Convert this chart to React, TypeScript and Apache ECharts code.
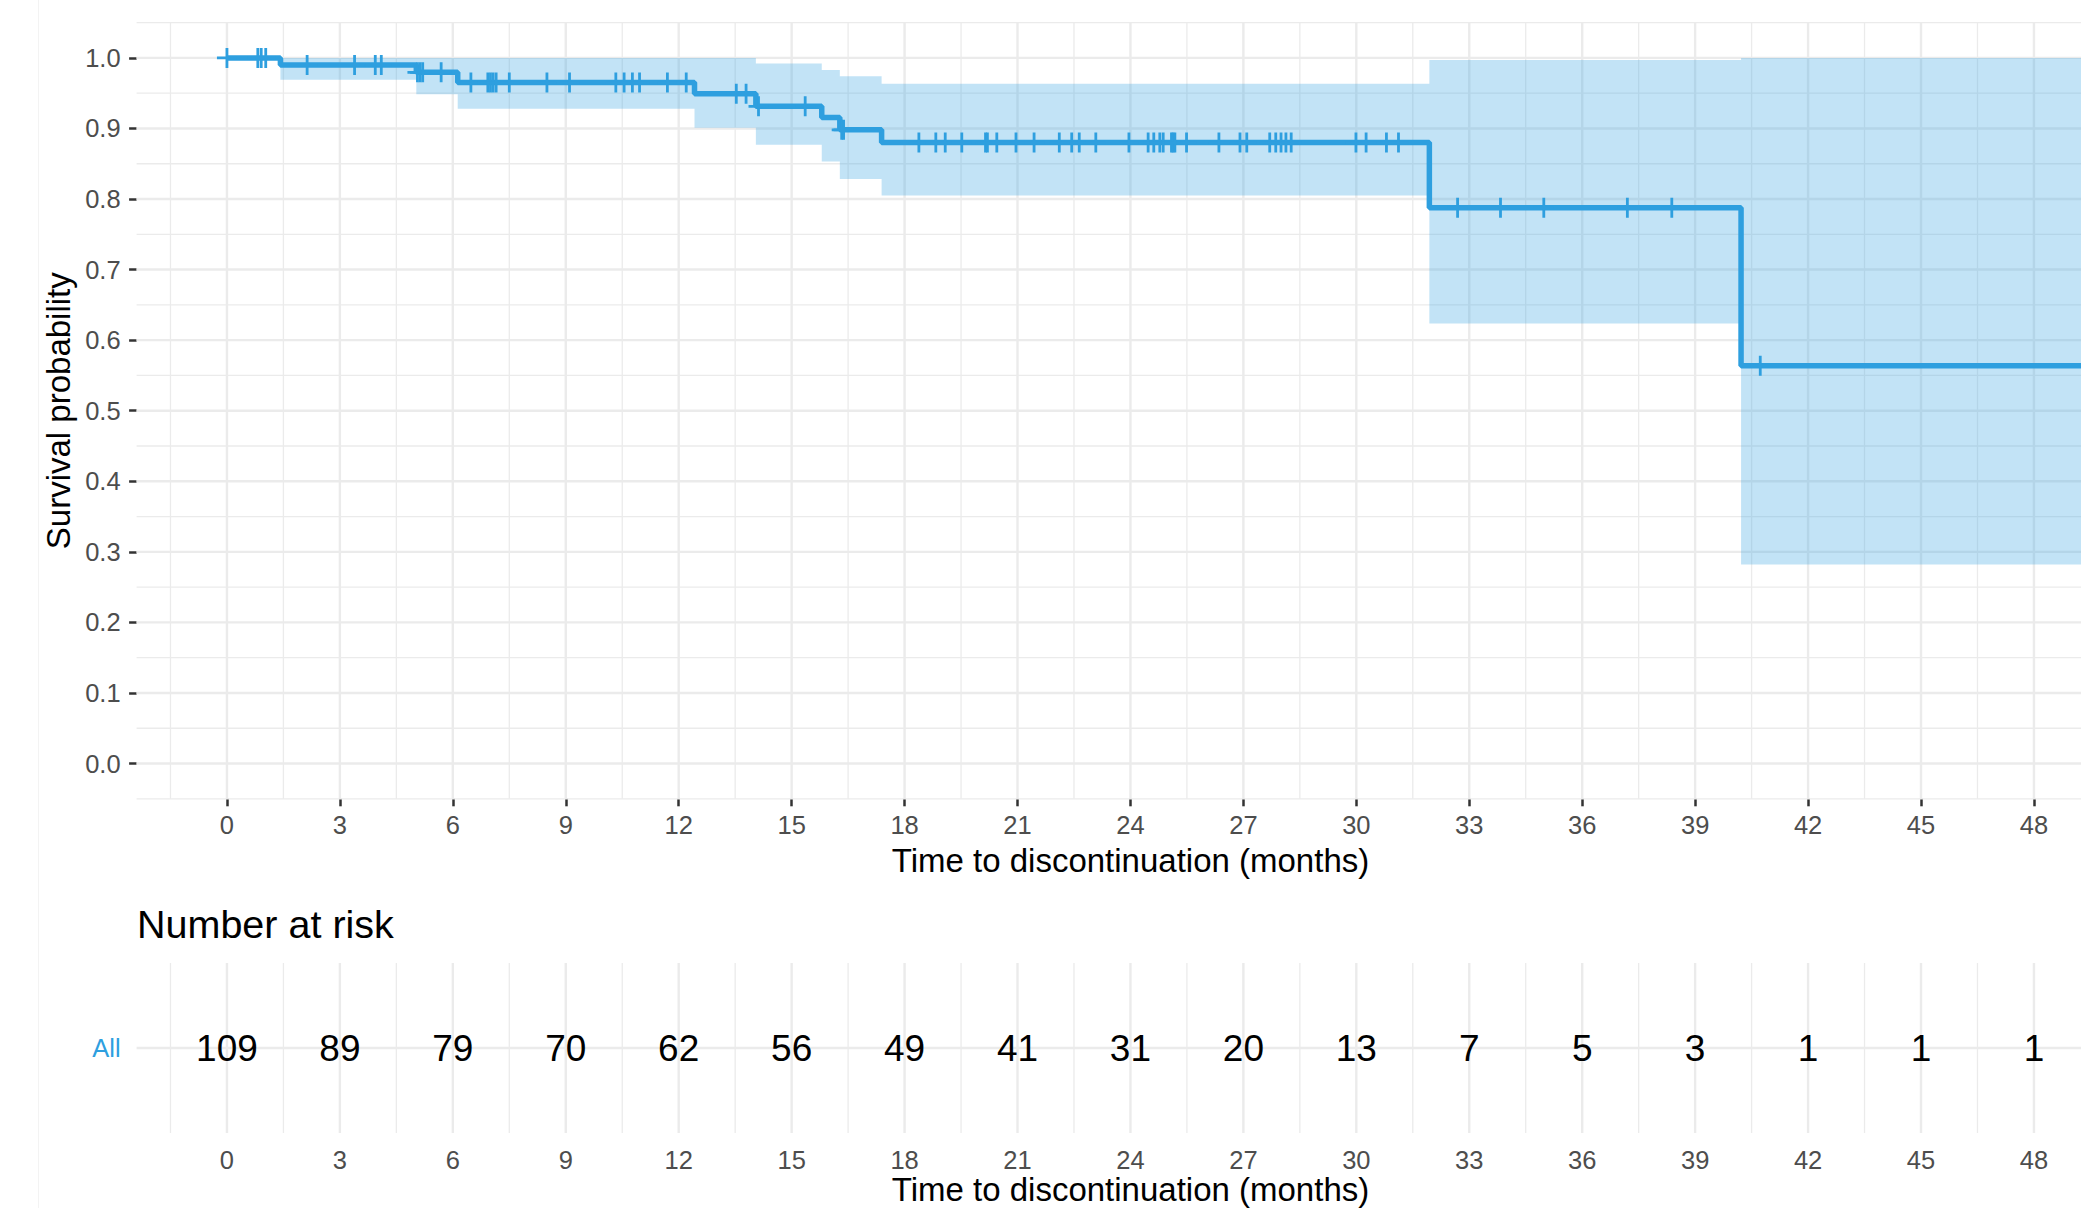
import React, { useEffect, useRef } from "react";
import * as echarts from "echarts";

// ---- Axis ticks / labels ----
const timeTicks = [0, 3, 6, 9, 12, 15, 18, 21, 24, 27, 30, 33, 36, 39, 42, 45, 48];
const probTicks = [0, 0.1, 0.2, 0.3, 0.4, 0.5, 0.6, 0.7, 0.8, 0.9, 1.0];
const strata = ["All"];
const riskCounts = [109, 89, 79, 70, 62, 56, 49, 41, 31, 20, 13, 7, 5, 3, 1, 1, 1];

// ---- Kaplan-Meier step curve ----
const stepTimes = [0, 1.42, 5.03, 6.13, 12.42, 14.05, 15.8, 16.28, 17.39, 31.94, 40.22];
const stepSurv = [1.0, 0.99, 0.9795, 0.965, 0.949, 0.9313, 0.9156, 0.898, 0.88, 0.7877, 0.5637];
const lastTime = 50;

// ---- Confidence band (segment starts) ----
const bandTimes = [1.42, 5.03, 6.13, 12.42, 14.05, 15.8, 16.28, 17.39, 31.94, 40.22];
const bandUpper = [1.0, 1.0, 1.0, 1.0, 0.992, 0.983, 0.974, 0.9635, 0.997, 1.0];
const bandLower = [0.969, 0.9486, 0.928, 0.901, 0.877, 0.853, 0.8284, 0.805, 0.6236, 0.282];

// ---- Censoring times ----
const censorTimes = [
  0, 0.82, 0.91, 1.03,
  2.13, 3.39, 3.94, 4.1,
  5.06, 5.13, 5.2, 5.69,
  6.48, 6.93, 7.0, 7.07, 7.15, 7.5, 8.5, 9.1, 10.33, 10.55, 10.77, 10.96, 11.7, 12.2,
  13.53, 13.79,
  14.12, 15.36,
  16.33, 16.38,
  18.38, 18.83, 19.08, 19.52, 20.15, 20.2, 20.45, 20.96, 21.44, 22.11, 22.44, 22.64, 23.08,
  23.96, 24.47, 24.62, 24.78, 24.87, 25.09, 25.13, 25.18, 25.49, 26.35, 26.91, 27.09, 27.7,
  27.86, 28.0, 28.13, 28.27, 29.99, 30.26, 30.8, 31.12,
  32.69, 33.83, 34.98, 37.2, 38.38,
  40.73,
];

const FONT = "'Liberation Sans', Arial, Helvetica, sans-serif";
const BLUE = "#2E9FDF";
const X_MIN = -2.4;
const X_MAX = 49.25;

function survAt(t: number): number {
  let s = stepSurv[0];
  for (let i = 0; i < stepTimes.length; i++) {
    if (stepTimes[i] <= t) s = stepSurv[i];
  }
  return s;
}

export default function App() {
  const ref = useRef<HTMLDivElement>(null);

  useEffect(() => {
    if (!ref.current) return;
    const chart = echarts.init(ref.current, null, { renderer: "svg" });

    // grid-line items: [orientation (0 vertical, 1 horizontal), value, major]
    const vertItems: number[][] = [];
    timeTicks.forEach((t) => vertItems.push([0, t, 1]));
    vertItems.push([0, timeTicks[0] - 1.5, 0]);
    timeTicks.forEach((t) => vertItems.push([0, t + 1.5, 0]));
    const topItems: number[][] = [...vertItems];
    probTicks.forEach((p) => topItems.push([1, p, 1]));
    topItems.push([1, probTicks[0] - 0.05, 0]);
    probTicks.forEach((p) => topItems.push([1, p + 0.05, 0]));
    const bottomItems: number[][] = [...vertItems, [1, 0, 1]];

    const gridRender = (params: any, api: any) => {
      const cs = params.coordSys;
      const orient = api.value(0);
      const v = api.value(1);
      const major = api.value(2);
      const style = { stroke: "#EBEBEB", lineWidth: major ? 2.4 : 1.3 };
      if (orient === 0) {
        const x = api.coord([v, 0])[0];
        if (x < cs.x - 1 || x > cs.x + cs.width + 1) return null;
        return { type: "line", shape: { x1: x, y1: cs.y, x2: x, y2: cs.y + cs.height }, style };
      }
      const y = api.coord([0, v])[1];
      return { type: "line", shape: { x1: cs.x, y1: y, x2: cs.x + cs.width, y2: y }, style };
    };

    const curveData = stepTimes.map((t, i) => [t, stepSurv[i]]);
    curveData.push([lastTime, stepSurv[stepSurv.length - 1]]);

    const censorData = censorTimes.map((t) => [t, survAt(t)]);
    const riskData = timeTicks.map((t, i) => [t, 0, riskCounts[i]]);

    const plusPath =
      "path://M8.6,0 H11.4 V8.6 H20 V11.4 H11.4 V20 H8.6 V11.4 H0 V8.6 H8.6 Z";

    const labelStyle = { color: "#4D4D4D", fontSize: 25.5, fontFamily: FONT };

    const option: any = {
      animation: false,
      backgroundColor: "#ffffff",
      grid: [
        { left: 136.6, right: 0, top: 22.6, height: 776.2 },
        { left: 136.6, right: 0, top: 963, height: 170 },
      ],
      xAxis: [
        {
          type: "value",
          gridIndex: 0,
          min: X_MIN,
          max: X_MAX,
          axisLine: { show: false, onZero: false },
          splitLine: { show: false },
          axisTick: {
            show: true,
            customValues: timeTicks,
            length: 7.5,
            lineStyle: { color: "#333333", width: 2.5 },
          },
          axisLabel: {
            ...labelStyle,
            customValues: timeTicks,
            margin: 13,
            formatter: (v: number) => String(v),
          },
        },
        {
          type: "value",
          gridIndex: 1,
          min: X_MIN,
          max: X_MAX,
          axisLine: { show: false, onZero: false },
          splitLine: { show: false },
          axisTick: { show: false, customValues: timeTicks },
          axisLabel: {
            ...labelStyle,
            customValues: timeTicks,
            margin: 14,
            formatter: (v: number) => String(v),
          },
        },
      ],
      yAxis: [
        {
          type: "value",
          gridIndex: 0,
          min: -0.05,
          max: 1.05,
          axisLine: { show: false, onZero: false },
          splitLine: { show: false },
          axisTick: {
            show: true,
            customValues: probTicks,
            length: 7.5,
            lineStyle: { color: "#333333", width: 2.5 },
          },
          axisLabel: {
            ...labelStyle,
            customValues: probTicks,
            margin: 16,
            formatter: (v: number) => v.toFixed(1),
          },
        },
        {
          type: "value",
          gridIndex: 1,
          min: -1,
          max: 1,
          axisLine: { show: false, onZero: false },
          splitLine: { show: false },
          axisTick: { show: false, customValues: [0] },
          axisLabel: {
            ...labelStyle,
            color: BLUE,
            customValues: [0],
            margin: 16,
            formatter: () => strata[0],
          },
        },
      ],
      series: [
        {
          type: "custom",
          name: "grid-top",
          xAxisIndex: 0,
          yAxisIndex: 0,
          silent: true,
          z: 1,
          data: topItems,
          renderItem: gridRender,
        },
        {
          type: "custom",
          name: "grid-bottom",
          xAxisIndex: 1,
          yAxisIndex: 1,
          silent: true,
          z: 1,
          data: bottomItems,
          renderItem: gridRender,
        },
        {
          type: "custom",
          name: "ci-band",
          xAxisIndex: 0,
          yAxisIndex: 0,
          silent: true,
          clip: true,
          z: 2,
          data: [[0, 0]],
          renderItem: (params: any, api: any) => {
            const pts: number[][] = [];
            const n = bandTimes.length;
            for (let i = 0; i < n; i++) {
              const t0 = bandTimes[i];
              const t1 = i + 1 < n ? bandTimes[i + 1] : lastTime;
              pts.push(api.coord([t0, bandUpper[i]]));
              pts.push(api.coord([t1, bandUpper[i]]));
            }
            for (let i = n - 1; i >= 0; i--) {
              const t0 = bandTimes[i];
              const t1 = i + 1 < n ? bandTimes[i + 1] : lastTime;
              pts.push(api.coord([t1, bandLower[i]]));
              pts.push(api.coord([t0, bandLower[i]]));
            }
            return {
              type: "polygon",
              shape: { points: pts },
              style: { fill: "rgba(46,159,223,0.29)" },
            };
          },
        },
        {
          type: "line",
          name: "All",
          xAxisIndex: 0,
          yAxisIndex: 0,
          step: "end",
          showSymbol: false,
          z: 3,
          data: curveData,
          lineStyle: { color: BLUE, width: 5.5 },
          itemStyle: { color: BLUE },
        },
        {
          type: "scatter",
          name: "censor",
          xAxisIndex: 0,
          yAxisIndex: 0,
          symbol: plusPath,
          symbolSize: 20,
          z: 4,
          data: censorData,
          itemStyle: { color: BLUE, opacity: 1 },
        },
        {
          type: "custom",
          name: "risk",
          xAxisIndex: 1,
          yAxisIndex: 1,
          z: 5,
          data: riskData,
          renderItem: (params: any, api: any) => {
            const p = api.coord([api.value(0), api.value(1)]);
            return {
              type: "text",
              x: p[0],
              y: p[1],
              style: {
                text: String(api.value(2)),
                fontSize: 37,
                fontFamily: FONT,
                fill: "#000000",
                align: "center",
                verticalAlign: "middle",
              },
            };
          },
        },
      ],
      graphic: [
        {
          type: "line",
          silent: true,
          shape: { x1: 38.5, y1: 0, x2: 38.5, y2: 1208 },
          style: { stroke: "#F3F3F3", lineWidth: 1 },
        },
        {
          type: "text",
          x: 58,
          y: 410.7,
          rotation: Math.PI / 2,
          style: {
            text: "Survival probability",
            fontSize: 33,
            fontFamily: FONT,
            fill: "#000000",
            align: "center",
            verticalAlign: "middle",
          },
        },
        {
          type: "text",
          x: 1130.5,
          y: 860,
          style: {
            text: "Time to discontinuation (months)",
            fontSize: 33,
            fontFamily: FONT,
            fill: "#000000",
            align: "center",
            verticalAlign: "middle",
          },
        },
        {
          type: "text",
          x: 137,
          y: 924,
          style: {
            text: "Number at risk",
            fontSize: 39.5,
            fontFamily: FONT,
            fill: "#000000",
            align: "left",
            verticalAlign: "middle",
          },
        },
        {
          type: "text",
          x: 1130.5,
          y: 1189,
          style: {
            text: "Time to discontinuation (months)",
            fontSize: 33,
            fontFamily: FONT,
            fill: "#000000",
            align: "center",
            verticalAlign: "middle",
          },
        },
      ],
    };

    chart.setOption(option);
    return () => chart.dispose();
  }, []);

  return (
    <div
      ref={ref}
      style={{
        position: "fixed",
        left: 0,
        top: 0,
        width: 2081,
        height: 1208,
        background: "#ffffff",
      }}
    />
  );
}
